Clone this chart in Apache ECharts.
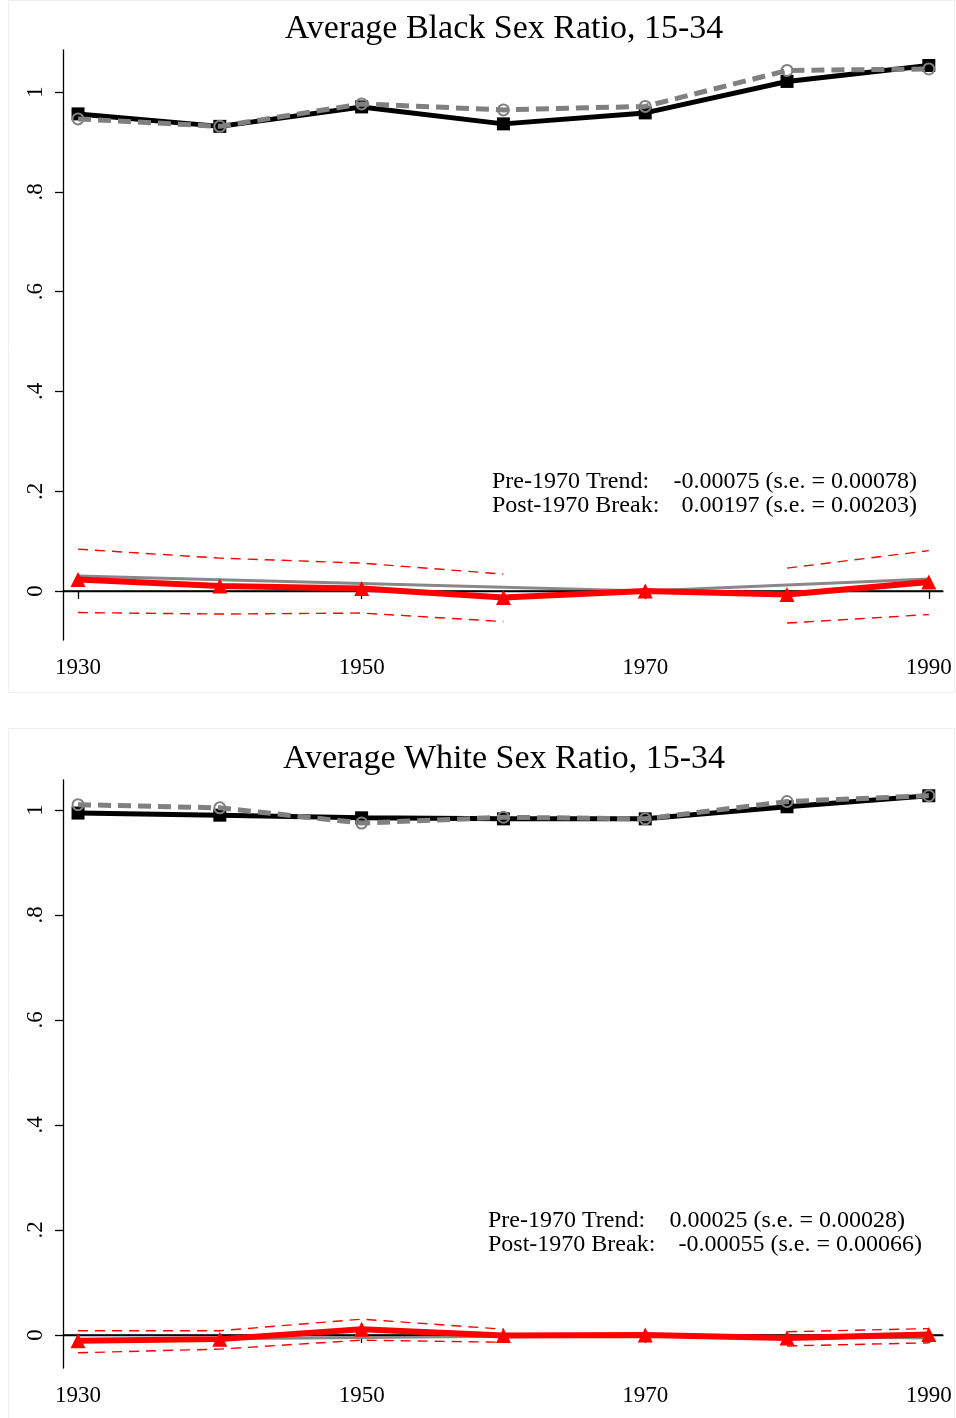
<!DOCTYPE html>
<html><head><meta charset="utf-8">
<script src="https://cdn.jsdelivr.net/npm/echarts@6/dist/echarts.min.js"></script>
<style>html,body{margin:0;padding:0;background:#fff}#c{width:956px;height:1418px}</style>
</head><body><div id="c"></div>
<script>
const years = [1930, 1940, 1950, 1960, 1970, 1980, 1990];
const xTicks = [1930, 1950, 1970, 1990];
const yTicks = [0, 0.2, 0.4, 0.6, 0.8, 1];

const titles = ['Average Black Sex Ratio, 15-34', 'Average White Sex Ratio, 15-34'];

const blackActual = [0.956, 0.931, 0.970, 0.936, 0.958, 1.021, 1.053];
const blackPredicted = [0.946, 0.931, 0.976, 0.964, 0.971, 1.043, 1.046];
const blackDiff = [0.023, 0.010, 0.005, -0.013, 0.000, -0.007, 0.018];
const blackTrend = [0.030, 0.0225, 0.015, 0.0075, 0.000, 0.012, 0.024];
const blackUpper = [0.084, 0.066, 0.056, 0.034, null, 0.046, 0.081];
const blackLower = [-0.043, -0.046, -0.044, -0.061, null, -0.064, -0.047];

const whiteActual = [0.994, 0.990, 0.985, 0.983, 0.983, 1.006, 1.027];
const whitePredicted = [1.010, 1.004, 0.975, 0.986, 0.983, 1.016, 1.027];
const whiteDiff = [-0.011, -0.008, 0.011, -0.001, 0.000, -0.006, 0.001];
const whiteTrend = [-0.010, -0.0075, -0.005, -0.0025, 0.000, -0.003, -0.006];
const whiteUpper = [0.008, 0.008, 0.030, 0.011, null, 0.006, 0.012];
const whiteLower = [-0.034, -0.027, -0.010, -0.014, null, -0.021, -0.015];

const trendLabels = ['Pre-1970 Trend:', 'Post-1970 Break:'];
const blackStats = ['-0.00075 (s.e. = 0.00078)', '0.00197 (s.e. = 0.00203)'];
const whiteStats = ['0.00025 (s.e. = 0.00028)', '-0.00055 (s.e. = 0.00066)'];

const FONT = '"Liberation Serif", "DejaVu Serif", serif';
const pair = arr => years.map((y, i) => [y, arr[i]]);

const panels = [
  {actual: blackActual, pred: blackPredicted, diff: blackDiff, trend: blackTrend, up: blackUpper, lo: blackLower,
   ymin: -0.098, ymax: 1.084, grid: {left: 63, top: 50, width: 880, height: 590}},
  {actual: whiteActual, pred: whitePredicted, diff: whiteDiff, trend: whiteTrend, up: whiteUpper, lo: whiteLower,
   ymin: -0.063, ymax: 1.057, grid: {left: 63, top: 780, width: 880, height: 588}}
];

const grid = [], xAxis = [], yAxis = [], series = [];
panels.forEach((p, k) => {
  grid.push(p.grid);
  xAxis.push({
    type: 'value', gridIndex: k, min: 1928.94, max: 1991.0,
    axisLine: {show: true, lineStyle: {color: '#000', width: 1.3}},
    axisTick: {show: true, customValues: xTicks, length: 8, lineStyle: {color: '#000', width: 1.3}},
    axisLabel: {customValues: xTicks, color: '#000', fontFamily: FONT, fontSize: 23, margin: 16, formatter: v => String(v)},
    splitLine: {show: false}
  });
  yAxis.push({
    type: 'value', gridIndex: k, min: p.ymin, max: p.ymax,
    axisLine: {show: true, lineStyle: {color: '#000', width: 1.3}},
    axisTick: {show: true, customValues: yTicks, length: 8, lineStyle: {color: '#000', width: 1.3}},
    axisLabel: {customValues: yTicks, rotate: 90, color: '#000', fontFamily: FONT, fontSize: 23, margin: 16,
      formatter: v => { if (Math.abs(v) < 1e-9) return '0'; if (Math.abs(v - 1) < 1e-9) return '1'; return String(Math.round(v * 10) / 10).replace(/^0/, ''); }},
    splitLine: {show: false}
  });
  const base = {xAxisIndex: k, yAxisIndex: k, type: 'line', animation: false, silent: true};
  series.push(Object.assign({}, base, {
    name: 'ci-up', data: pair(p.up), symbol: 'none', connectNulls: false, z: 3,
    lineStyle: {color: '#ff0000', width: 1.4, type: [10, 7]}
  }));
  series.push(Object.assign({}, base, {
    name: 'ci-lo', data: pair(p.lo), symbol: 'none', connectNulls: false, z: 3,
    lineStyle: {color: '#ff0000', width: 1.4, type: [10, 7]}
  }));
  series.push(Object.assign({}, base, {
    name: 'trend', data: pair(p.trend), symbol: 'none', z: 3,
    lineStyle: {color: '#888888', width: 3},
    markLine: {silent: true, symbol: 'none', label: {show: false}, animation: false,
      lineStyle: {color: '#000', width: 1.6, type: 'solid'}, data: [{yAxis: 0}]}
  }));
  series.push(Object.assign({}, base, {
    name: 'diff', data: pair(p.diff), symbol: 'triangle', symbolSize: 15, z: 5,
    lineStyle: {color: '#ff0000', width: 6}, itemStyle: {color: '#ff0000'}
  }));
  series.push(Object.assign({}, base, {
    name: 'actual', data: pair(p.actual), symbol: 'rect', symbolSize: 13, z: 4,
    lineStyle: {color: '#000', width: 5}, itemStyle: {color: '#000'}
  }));
  series.push(Object.assign({}, base, {
    name: 'pred', data: pair(p.pred), symbol: 'circle', symbolSize: 11, z: 5,
    lineStyle: {color: '#808080', width: 5, type: [13, 7]},
    itemStyle: {color: 'rgba(0,0,0,0)', borderColor: '#808080', borderWidth: 2}
  }));
});

const txt = (x, y, s, align, size) => ({type: 'text', x: x, y: y, silent: true,
  style: {text: s, fill: '#000', font: (size || 24) + 'px ' + FONT, textAlign: align || 'left', textVerticalAlign: 'middle'}});

const graphic = [
  {type: 'rect', shape: {x: 8.5, y: 0.5, width: 946, height: 692}, style: {fill: 'none', stroke: '#eceff3', lineWidth: 1}, silent: true},
  {type: 'rect', shape: {x: 8.5, y: 728.5, width: 946, height: 690}, style: {fill: 'none', stroke: '#eceff3', lineWidth: 1}, silent: true},
  txt(504, 29, titles[0], 'center', 34),
  txt(504, 759, titles[1], 'center', 34),
  txt(492, 482, trendLabels[0]), txt(917, 482, blackStats[0], 'right'),
  txt(492, 506, trendLabels[1]), txt(917, 506, blackStats[1], 'right'),
  txt(488, 1221, trendLabels[0]), txt(905, 1221, whiteStats[0], 'right'),
  txt(488, 1245, trendLabels[1]), txt(922, 1245, whiteStats[1], 'right')
];

const chart = echarts.init(document.getElementById('c'), null, {renderer: 'canvas'});
chart.setOption({backgroundColor: '#fff', animation: false, grid, xAxis, yAxis, series, graphic});
</script></body></html>
